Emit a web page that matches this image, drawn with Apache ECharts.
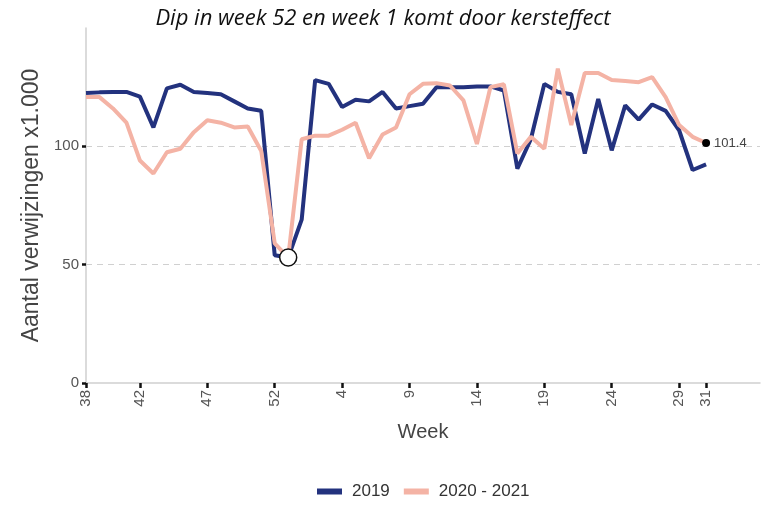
<!DOCTYPE html>
<html>
<head>
<meta charset="utf-8">
<script src="https://cdn.jsdelivr.net/npm/echarts@6/dist/echarts.min.js"></script>
<style>
html,body{margin:0;padding:0;background:#fff;}
#chart{width:766px;height:505px;}
</style>
</head>
<body>
<div id="chart"></div>
<script>
// Week numbers (2020 had an ISO week 53)
var weeks = [38,39,40,41,42,43,44,45,46,47,48,49,50,51,52,53,1,2,3,4,5,6,7,8,9,10,11,12,13,14,15,16,17,18,19,20,21,22,23,24,25,26,27,28,29,30,31];
var tickWeeks = [38,42,47,52,4,9,14,19,24,29,31];
var series2019 = [122.5,122.8,123,123,121,108,124.5,126,123,122.5,122,119,116,115,54,53,69,128,126.4,116.6,119.7,119,123,116,117,118,125,125,125,125.3,125.3,123.6,90.6,103,126.4,123,122,97,120,98.3,117.3,111.3,117.7,115,106.8,90,92.4];
var series2021 = [120.8,120.8,116,110,94,88.5,97.5,99,106,111,110,108,108.4,98,59,53,103,104.5,104.5,107,110,95,105,108,122,126.4,126.7,125.7,119.4,101,125,126.2,97,104,99,132.8,109,131,131,128,127.6,127.1,129.2,120.8,109,104,101.4];
var yTicks = [0,50,100];
var dipIndex = 15;   // week 53
var lastIndex = weeks.length - 1;

function pairs(vals){ return vals.map(function(v,i){ return [i,v]; }); }
var tickPos = tickWeeks.map(function(w){
  if (w >= 38) return weeks.indexOf(w);
  return weeks.indexOf(w, 16);
});

var chart = echarts.init(document.getElementById('chart'));
chart.setOption({
  animation:false,
  title:{
    text:'Dip in week 52 en week 1 komt door kersteffect',
    left:'center', top:3,
    textStyle:{fontFamily:'Open Sans', fontStyle:'italic', fontWeight:'normal', fontSize:22, color:'#111'}
  },
  grid:{left:86, right:6, top:28, bottom:122, containLabel:false},
  legend:{
    bottom:0, left:312, icon:'rect', itemWidth:25, itemHeight:6, itemGap:14,
    textStyle:{fontFamily:'Liberation Sans', fontSize:17, color:'#333', padding:[0,0,0,5]},
    data:['2019','2020 - 2021']
  },
  xAxis:{
    type:'value', min:0, max:50,
    name:'Week', nameLocation:'middle', nameGap:39,
    nameTextStyle:{fontFamily:'Liberation Sans', fontSize:20, color:'#444'},
    axisLine:{show:true, onZero:false, lineStyle:{color:'#cfcfcf', width:1.5}},
    axisTick:{show:true, length:5, lineStyle:{color:'#111', width:2.5}, customValues:tickPos},
    axisLabel:{
      rotate:90, margin:7, fontFamily:'Liberation Sans', fontSize:15, color:'#555',
      customValues:tickPos,
      formatter:function(v){ return String(weeks[Math.round(v)]); }
    },
    splitLine:{show:false}
  },
  yAxis:{
    type:'value', min:0, max:150, interval:50,
    name:'Aantal verwijzingen x1.000', nameLocation:'middle', nameGap:31,
    nameTextStyle:{fontFamily:'Liberation Sans', fontSize:23, color:'#444'},
    axisLine:{show:true, lineStyle:{color:'#cfcfcf', width:1.5}},
    axisTick:{show:true, length:4, lineStyle:{color:'#111', width:2.5}, customValues:yTicks},
    axisLabel:{margin:7, fontFamily:'Liberation Sans', fontSize:15, color:'#555', customValues:yTicks},
    splitLine:{show:true, showMinLine:false, lineStyle:{color:'#d0d0d0', type:[6,5], width:1}}
  },
  series:[
    {
      name:'2019', type:'line', data:pairs(series2019), showSymbol:false, symbol:'none',
      lineStyle:{color:'#23327e', width:4}, itemStyle:{color:'#23327e'}, z:2
    },
    {
      name:'2020 - 2021', type:'line', data:pairs(series2021), showSymbol:false, symbol:'none',
      lineStyle:{color:'#f4b3a5', width:4}, itemStyle:{color:'#f4b3a5'}, z:3,
      markPoint:{
        silent:true,
        data:[
          {coord:[dipIndex, series2021[dipIndex]], symbol:'circle', symbolSize:17,
           itemStyle:{color:'#fff', borderColor:'#111', borderWidth:1.5}, label:{show:false}},
          {coord:[lastIndex, series2021[lastIndex]], symbol:'circle', symbolSize:8,
           itemStyle:{color:'#000'},
           label:{show:true, position:'right', distance:4, formatter:String(series2021[lastIndex]),
                  fontFamily:'Liberation Sans', fontSize:13, color:'#444'}}
        ]
      }
    }
  ]
});
</script>
</body>
</html>
